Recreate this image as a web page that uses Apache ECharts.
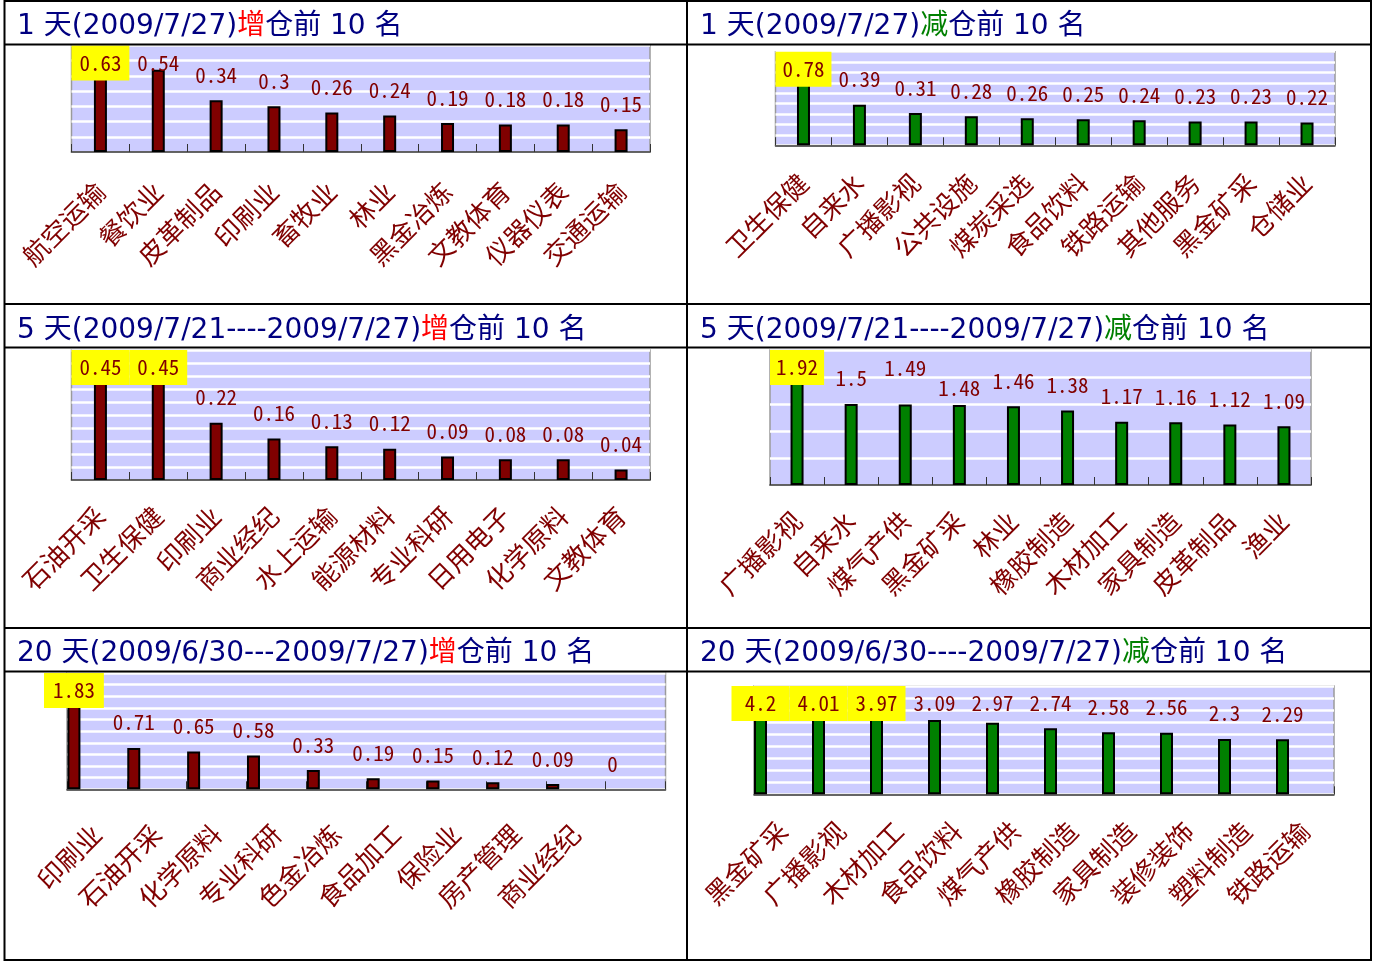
<!DOCTYPE html>
<html><head><meta charset="utf-8">
<script src="https://cdn.jsdelivr.net/npm/echarts@6/dist/echarts.min.js"></script>
<style>html,body{margin:0;padding:0;background:#fff}#c{width:1373px;height:961px}</style>
</head><body><div id="c"></div>
<script>
// ---------- data ----------
const cats1dUp = ['航空运输','餐饮业','皮革制品','印刷业','畜牧业','林业','黑金冶炼','文教体育','仪器仪表','交通运输'];
const vals1dUp = [0.63,0.54,0.34,0.3,0.26,0.24,0.19,0.18,0.18,0.15];
const hi1dUp = [0];
const cats1dDown = ['卫生保健','自来水','广播影视','公共设施','煤炭采选','食品饮料','铁路运输','其他服务','黑金矿采','仓储业'];
const vals1dDown = [0.78,0.39,0.31,0.28,0.26,0.25,0.24,0.23,0.23,0.22];
const hi1dDown = [0];
const cats5dUp = ['石油开采','卫生保健','印刷业','商业经纪','水上运输','能源材料','专业科研','日用电子','化学原料','文教体育'];
const vals5dUp = [0.45,0.45,0.22,0.16,0.13,0.12,0.09,0.08,0.08,0.04];
const hi5dUp = [0,1];
const cats5dDown = ['广播影视','自来水','煤气产供','黑金矿采','林业','橡胶制造','木材加工','家具制造','皮革制品','渔业'];
const vals5dDown = [1.92,1.5,1.49,1.48,1.46,1.38,1.17,1.16,1.12,1.09];
const hi5dDown = [0];
const cats20dUp = ['印刷业','石油开采','化学原料','专业科研','色金冶炼','食品加工','保险业','房产管理','商业经纪',''];
const vals20dUp = [1.83,0.71,0.65,0.58,0.33,0.19,0.15,0.12,0.09,0];
const hi20dUp = [0];
const cats20dDown = ['黑金矿采','广播影视','木材加工','食品饮料','煤气产供','橡胶制造','家具制造','装修装饰','塑料制造','铁路运输'];
const vals20dDown = [4.2,4.01,3.97,3.09,2.97,2.74,2.58,2.56,2.3,2.29];
const hi20dDown = [0,1,2];

const titles = [
  ['1 天(2009/7/27)','增','仓前 10 名'],
  ['1 天(2009/7/27)','减','仓前 10 名'],
  ['5 天(2009/7/21----2009/7/27)','增','仓前 10 名'],
  ['5 天(2009/7/21----2009/7/27)','减','仓前 10 名'],
  ['20 天(2009/6/30---2009/7/27)','增','仓前 10 名'],
  ['20 天(2009/6/30----2009/7/27)','减','仓前 10 名']
];
const axisMax = [0.7, 0.9, 0.5, 2.5, 2, 4.5];
const axisStep = [0.1, 0.1, 0.05, 0.5, 0.2, 0.5];

// ---------- layout (positions / styles) ----------
const layout = [
  {l:71.5, t:45.5, r:650, b:152, shift:0, margin:35, tx:17, ty:27},
  {l:775.5, t:51.7, r:1335, b:145.3, shift:0, margin:33, tx:700, ty:27},
  {l:71.5, t:350, r:650, b:480, shift:0, margin:31.5, tx:17, ty:331},
  {l:770, t:350, r:1311, b:485, shift:0, margin:31.5, tx:700, ty:331},
  {l:67, t:673, r:665.5, b:789.3, shift:-23, margin:40, tx:17, ty:654},
  {l:754, t:686, r:1334, b:794.3, shift:-22.5, margin:32, tx:700, ty:654}
];
const labelNudge = {3: {2: -11.5, 3: 8}};

const panels = [
  {cats:cats1dUp, vals:vals1dUp, hi:hi1dUp, up:true},
  {cats:cats1dDown, vals:vals1dDown, hi:hi1dDown, up:false},
  {cats:cats5dUp, vals:vals5dUp, hi:hi5dUp, up:true},
  {cats:cats5dDown, vals:vals5dDown, hi:hi5dDown, up:false},
  {cats:cats20dUp, vals:vals20dUp, hi:hi20dUp, up:true},
  {cats:cats20dDown, vals:vals20dDown, hi:hi20dDown, up:false}
];

const LBL_H = 35, LBL_D = 8;
const chart = echarts.init(document.getElementById('c'), null, {renderer:'canvas'});

function buildOption(offsets) {
  const grid = [], xAxis = [], yAxis = [], series = [], title = [];
  panels.forEach((p, i) => {
    const L = layout[i];
    const w = L.r - L.l, h = L.b - L.t;
    const catW = w / p.cats.length;
    grid.push({left:L.l, top:L.t, width:w, height:h, show:true, backgroundColor:'#ccccff',
      borderColor:'#9a9a9a', borderWidth:1.5});
    grid.push({left:L.l + L.shift, top:L.t, width:w, height:h, show:false});
    xAxis.push({type:'category', gridIndex:2*i, data:p.cats, boundaryGap:true,
      axisLine:{show:true, lineStyle:{color:'#333', width:1.5}},
      axisTick:{show:true, inside:true, length:8, lineStyle:{color:'#333', width:1}},
      axisLabel:{interval:0, rotate:45, margin:L.margin, color:'#800000', fontSize:26,
        fontFamily:'"Noto Sans CJK SC"'}});
    xAxis.push({type:'category', gridIndex:2*i+1, data:p.cats, show:false});
    yAxis.push({type:'value', gridIndex:2*i, min:0, max:axisMax[i], interval:axisStep[i],
      axisLabel:{show:false}, axisLine:{show:false}, axisTick:{show:false},
      splitLine:{show:true, lineStyle:{color:'#ffffff', width:2.5}}});
    yAxis.push({type:'value', gridIndex:2*i+1, min:0, max:axisMax[i], interval:axisStep[i], show:false,
      splitLine:{show:false}});
    series.push({type:'bar', xAxisIndex:2*i+1, yAxisIndex:2*i+1, barWidth:13, animation:false,
      itemStyle:{color: p.up ? '#800000' : '#008000', borderColor:'#000', borderWidth:2},
      label:{show:true, position:'top', distance:LBL_D, color:'#800000', fontSize:21, fontWeight:500,
        fontFamily:'"Noto Sans Mono CJK SC", "DejaVu Sans Mono"', width:catW, height:LBL_H, lineHeight:LBL_H, align:'center',
        formatter: d => String(d.value)},
      data: p.vals.map((v, j) => ({value:v,
        itemStyle: v === 0 ? {borderWidth:0} : undefined,
        label:{
          backgroundColor: p.hi.includes(j) ? '#ffff00' : 'transparent',
          offset:[0, offsets ? offsets[i][j] : 0]}}))
    });
    const base = {fontFamily:'"DejaVu Sans", "Noto Sans CJK SC"', fontSize:28, lineHeight:40, fontWeight:'normal'};
    title.push({text:'{a|' + titles[i][0] + '}{c|' + titles[i][1] + '}{a|' + titles[i][2] + '}',
      left:L.tx, top:L.ty - 20, padding:0,
      textStyle:{fontWeight:'normal', rich:{a:Object.assign({color:'#000080'}, base),
        c:Object.assign({color: p.up ? '#ff0000' : '#008000'}, base)}}});
  });
  const graphic = [];
  const hy = [1, 44.5, 304, 347.5, 628, 671.5, 960];
  hy.forEach(y => graphic.push({type:'line', shape:{x1:4, y1:y, x2:1372, y2:y}, style:{stroke:'#000', lineWidth:2}, z:100}));
  [4.5, 687, 1371].forEach(x => graphic.push({type:'line', shape:{x1:x, y1:0, x2:x, y2:961}, style:{stroke:'#000', lineWidth:2}, z:100}));
  return {animation:false, grid, xAxis, yAxis, series, title, graphic};
}

chart.setOption(buildOption(null));
// label clamping: keep each value label box inside its plot area
const offsets = panels.map((p, i) => p.vals.map((v, j) => {
  const pt = chart.convertToPixel({xAxisIndex:2*i+1, yAxisIndex:2*i+1}, [j, v]);
  const boxTop = pt[1] - LBL_D - LBL_H;
  let dy = boxTop < layout[i].t ? layout[i].t - boxTop : 0;
  if (labelNudge[i] && labelNudge[i][j] !== undefined) dy += labelNudge[i][j];
  return dy;
}));
chart.setOption(buildOption(offsets), true);
</script></body></html>
